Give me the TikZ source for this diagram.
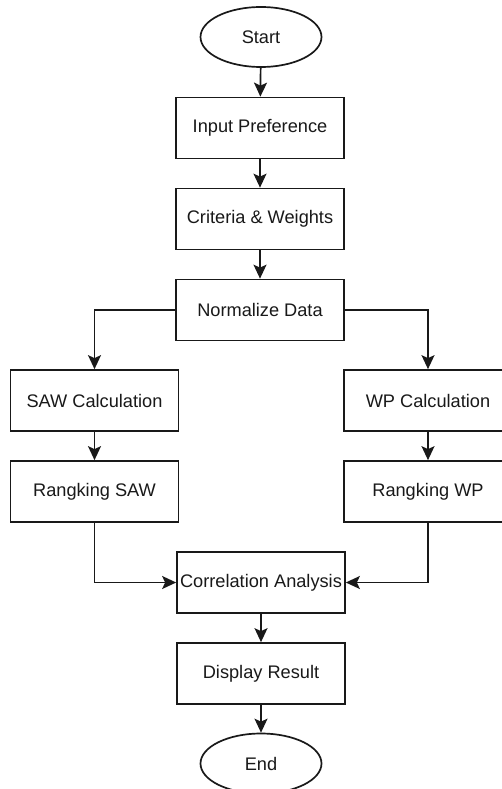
\documentclass[tikz,border=0pt]{standalone}
\usepackage{fontspec}
\setmainfont{Liberation Sans}
\usetikzlibrary{shapes.geometric,arrows.meta}
\begin{document}
\begin{tikzpicture}[x=1pt,y=1pt,
  every node/.style={font=\fontsize{18.2}{21}\selectfont, text=black!90},
  proc/.style={draw=black!90, line width=1.7pt, rectangle, minimum width=168pt, minimum height=61pt, inner sep=0pt},
  term/.style={draw=black!90, line width=1.7pt, ellipse, minimum width=121pt, minimum height=60pt, inner sep=0pt},
  flow/.style={draw=black!90, line width=1.7pt, -{Stealth[length=14pt,width=13pt,inset=3pt]}}]
\useasboundingbox (0,0) rectangle (502,-789);
\fill[white] (0,0) rectangle (502,-789);
\clip (0,0) rectangle (502,-789);
\node[term] (start) at (261,-37) {Start};
\node[proc] (input) at (260,-128) {Input Preference};
\node[proc] (crit) at (260,-219) {Criteria \& Weights};
\node[proc] (norm) at (260,-310) {Normalize Data};
\node[proc] (saw) at (94.5,-400.5) {SAW Calculation};
\node[proc] (rsaw) at (94.5,-491.5) {Rangking SAW};
\node[proc] (wp) at (428,-400.5) {WP Calculation};
\node[proc] (rwp) at (428,-491.5) {Rangking WP};
\node[proc] (corr) at (261,-582.5) {Correlation Analysis};
\node[proc] (disp) at (261,-673.5) {Display Result};
\node[term] (end) at (261,-763.5) {End};
\draw[flow] (start) -- (input);
\draw[flow] (input) -- (crit);
\draw[flow] (crit) -- (norm);
\draw[flow] (norm.west) -| (saw.north);
\draw[flow] (norm.east) -| (wp.north);
\draw[flow] (saw) -- (rsaw);
\draw[flow] (wp) -- (rwp);
\draw[flow] (rsaw.south) |- (corr.west);
\draw[flow] (rwp.south) |- (corr.east);
\draw[flow] (corr) -- (disp);
\draw[flow] (disp) -- (end);
\end{tikzpicture}
\end{document}
